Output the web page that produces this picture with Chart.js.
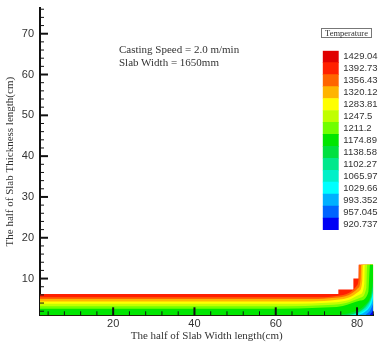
<!DOCTYPE html>
<html>
<head>
<meta charset="utf-8">
<script src="https://cdn.jsdelivr.net/npm/chart.js@4.4.0/dist/chart.umd.min.js"></script>
<style>
    html, body { margin: 0; padding: 0; background: #fff; }
    #wrap { position: relative; width: 390px; height: 349px; overflow: hidden; }
    #main { position: absolute; left: 0; top: 0; }
    #bar { position: absolute; left: 322px; top: 44px; }
    .note {
        position: absolute; left: 119px;
        font: 11px 'Liberation Serif', 'DejaVu Serif', serif;
        color: #333; white-space: nowrap; line-height: 12.7px;
    }
    #legend-title {
        position: absolute; left: 321px; top: 28px; width: 49px; height: 8px;
        border: 1px solid #777; color: #333; text-align: center;
        font: 8.5px 'Liberation Serif', serif; line-height: 8px;
    }
</style>
</head>
<body>
<div id="wrap">
    <canvas id="main" width="390" height="349"></canvas>
    <canvas id="bar" width="68" height="193"></canvas>
    <div class="note" style="top:43px">Casting Speed = 2.0 m/min<br>Slab Width = 1650mm</div>
    <div id="legend-title">Temperature</div>
</div>
<script>
'use strict';

/* ── Axes ── */
const xRange = [2, 84];
const yRange = [1, 76.3];
const xTicks = [20, 40, 60, 80];
const yTicks = [10, 20, 30, 40, 50, 60, 70];

/* ── Contour levels (legend, bottom → top) ── */
const levelLabels = ['920.737', '957.045', '993.352', '1029.66', '1065.97', '1102.27', '1138.58',
    '1174.89', '1211.2', '1247.5', '1283.81', '1320.12', '1356.43', '1392.73', '1429.04'];
const levelColors = ['#0000f5', '#0064ff', '#00b0ff', '#00ffff', '#00f0c8', '#00e88c', '#00e040',
    '#00e600', '#70ff00', '#c0ff00', '#ffff00', '#ffb400', '#ff6400', '#ff2000', '#e00000'];

/* ── Slab outline and isotherms, [x cm, y cm] ── */
const domainTop = [[0, 6.2], [75.4, 6.2], [75.4, 7.3], [79.1, 7.3], [79.1, 10], [80.4, 10], [80.4, 13.4], [84, 13.4]];
const iso1392 = [[0, 5.45], [71, 5.45], [75, 5.75], [78.2, 6.6], [79.9, 8.2], [80.4, 10], [80.5, 13.4], [84, 13.4]];
const iso1356 = [[0, 5.0], [69, 5.0], [74.5, 5.3], [78, 6.0], [80.2, 7.6], [80.9, 10], [81.0, 13.4], [84, 13.4]];
const iso1320 = [[0, 4.4], [67, 4.4], [73.5, 4.65], [77.8, 5.3], [80.5, 6.9], [81.3, 9.5], [81.4, 13.4], [84, 13.4]];
const iso1284 = [[0, 3.8], [65, 3.8], [72.5, 4.05], [77.5, 4.6], [80.7, 6.1], [81.8, 8.8], [81.9, 13.4], [84, 13.4]];
const iso1248 = [[0, 3.2], [63, 3.2], [71.5, 3.45], [77, 3.95], [80.8, 5.3], [82.3, 7.8], [82.5, 13.4], [84, 13.4]];
const iso1211 = [[0, 2.6], [61, 2.6], [70.5, 2.85], [76.5, 3.3], [80.8, 4.6], [82.8, 6.8], [83.2, 13.4], [84, 13.4]];
const iso1175 = [[75, 1], [79, 1.8], [82, 3.6], [83.4, 6], [84, 10]];
const iso1139 = [[77, 1], [80.5, 1.9], [82.6, 3.8], [83.6, 6], [84, 8.5]];
const iso1102 = [[78, 1], [81, 2], [83, 4], [83.8, 6], [84, 7.6]];
const iso1066 = [[79, 1], [81.6, 2], [83.2, 3.9], [84, 6.8]];
const iso1030 = [[80.3, 1], [82.3, 2.1], [83.5, 3.7], [84, 5.3]];
const iso993 = [[82, 1], [83.2, 2.1], [84, 3.8]];
const iso957 = [[83, 1], [83.6, 1.7], [84, 2.5]];

// isotherms from hot to cold; the area under each takes the next colder colour
const isoLines = [iso1392, iso1356, iso1320, iso1284, iso1248, iso1211, iso1175,
    iso1139, iso1102, iso1066, iso1030, iso993, iso957];

const toXY = pts => pts.map(([x, y]) => ({ x, y }));

const datasets = [{
    data: toXY(domainTop),
    backgroundColor: levelColors[13],
    fill: 'start',
    tension: 0,
    order: 30,
}];
isoLines.forEach((line, i) => {
    datasets.push({
        data: toXY(line),
        backgroundColor: levelColors[12 - i],
        fill: 'start',
        cubicInterpolationMode: 'monotone',
        order: 29 - i,
    });
});
datasets.forEach(d => {
    d.borderWidth = 0;
    d.borderColor = 'rgba(0,0,0,0)';
    d.pointRadius = 0;
});

/* ── Inward tick marks ── */
const tickMarks = {
    id: 'tickMarks',
    afterDatasetsDraw(chart) {
        const { ctx, chartArea: a, scales: { x, y } } = chart;
        ctx.save();
        ctx.strokeStyle = '#111';
        for (let v = 4; v <= xRange[1]; v += 4) {
            const major = xTicks.includes(v);
            const px = x.getPixelForValue(v);
            ctx.lineWidth = major ? 2 : 1;
            ctx.beginPath();
            ctx.moveTo(px, a.bottom);
            ctx.lineTo(px, a.bottom - (major ? 8 : 4));
            ctx.stroke();
        }
        for (let v = 2; v <= yRange[1]; v += 2) {
            const major = yTicks.includes(v);
            const py = y.getPixelForValue(v);
            ctx.lineWidth = major ? 2 : 1;
            ctx.beginPath();
            ctx.moveTo(a.left, py);
            ctx.lineTo(a.left + (major ? 8 : 4), py);
            ctx.stroke();
        }
        ctx.restore();
    },
};

const tickFont = { family: "'Liberation Sans', Arial, sans-serif", size: 11 };
const titleFont = { family: "'Liberation Serif', 'Times New Roman', serif", size: 11 };

new Chart(document.getElementById('main'), {
    type: 'line',
    data: { datasets },
    options: {
        responsive: false,
        animation: false,
        events: [],
        layout: { padding: { left: 0, top: 8, right: 16.7, bottom: 0 } },
        plugins: { legend: { display: false }, tooltip: { enabled: false } },
        scales: {
            x: {
                type: 'linear',
                min: xRange[0],
                max: xRange[1],
                afterBuildTicks: s => { s.ticks = xTicks.map(value => ({ value })); },
                afterFit: s => { s.height = 33.7; s.paddingLeft = 0; s.paddingRight = 0; },
                grid: { display: false, drawTicks: false },
                border: { display: true, color: '#111', width: 2 },
                ticks: { padding: 2, color: '#333', font: tickFont, maxRotation: 0 },
                title: {
                    display: true,
                    text: 'The half of Slab Width length(cm)',
                    color: '#333',
                    font: titleFont,
                    padding: { top: 0, bottom: 6 },
                },
            },
            y: {
                type: 'linear',
                min: yRange[0],
                max: yRange[1],
                afterBuildTicks: s => { s.ticks = yTicks.map(value => ({ value })); },
                afterFit: s => { s.width = 40; s.paddingTop = 0; s.paddingBottom = 0; },
                grid: { display: false, drawTicks: false },
                border: { display: true, color: '#111', width: 2 },
                ticks: { padding: 6, color: '#333', font: tickFont },
                title: {
                    display: true,
                    text: 'The half of Slab Thickness length(cm)',
                    color: '#333',
                    font: titleFont,
                    padding: { top: 3.4, bottom: 0 },
                },
            },
        },
    },
    plugins: [tickMarks],
});

/* ── Colour legend ── */
new Chart(document.getElementById('bar'), {
    type: 'bar',
    data: {
        labels: [''],
        datasets: levelLabels.map((_, i) => ({
            data: [1],
            backgroundColor: levelColors[i],
            borderWidth: 0,
            barPercentage: 1,
            categoryPercentage: 1,
        })),
    },
    options: {
        responsive: false,
        animation: false,
        events: [],
        layout: { padding: { top: 6.7, bottom: 7, left: 0.7, right: 0 } },
        plugins: { legend: { display: false }, tooltip: { enabled: false } },
        scales: {
            x: { display: false, stacked: true },
            y: {
                stacked: true,
                position: 'right',
                min: 0,
                max: levelLabels.length,
                afterBuildTicks: s => { s.ticks = levelLabels.map((_, i) => ({ value: i + 0.5 })); },
                afterFit: s => { s.width = 51.3; s.paddingTop = 0; s.paddingBottom = 0; },
                grid: { display: false, drawTicks: false },
                border: { display: false },
                ticks: {
                    autoSkip: false,
                    padding: 4.6,
                    color: '#333',
                    font: { family: "'Liberation Sans', Arial, sans-serif", size: 9.5 },
                    callback: (v, i) => levelLabels[i],
                },
            },
        },
    },
});
</script>
</body>
</html>
